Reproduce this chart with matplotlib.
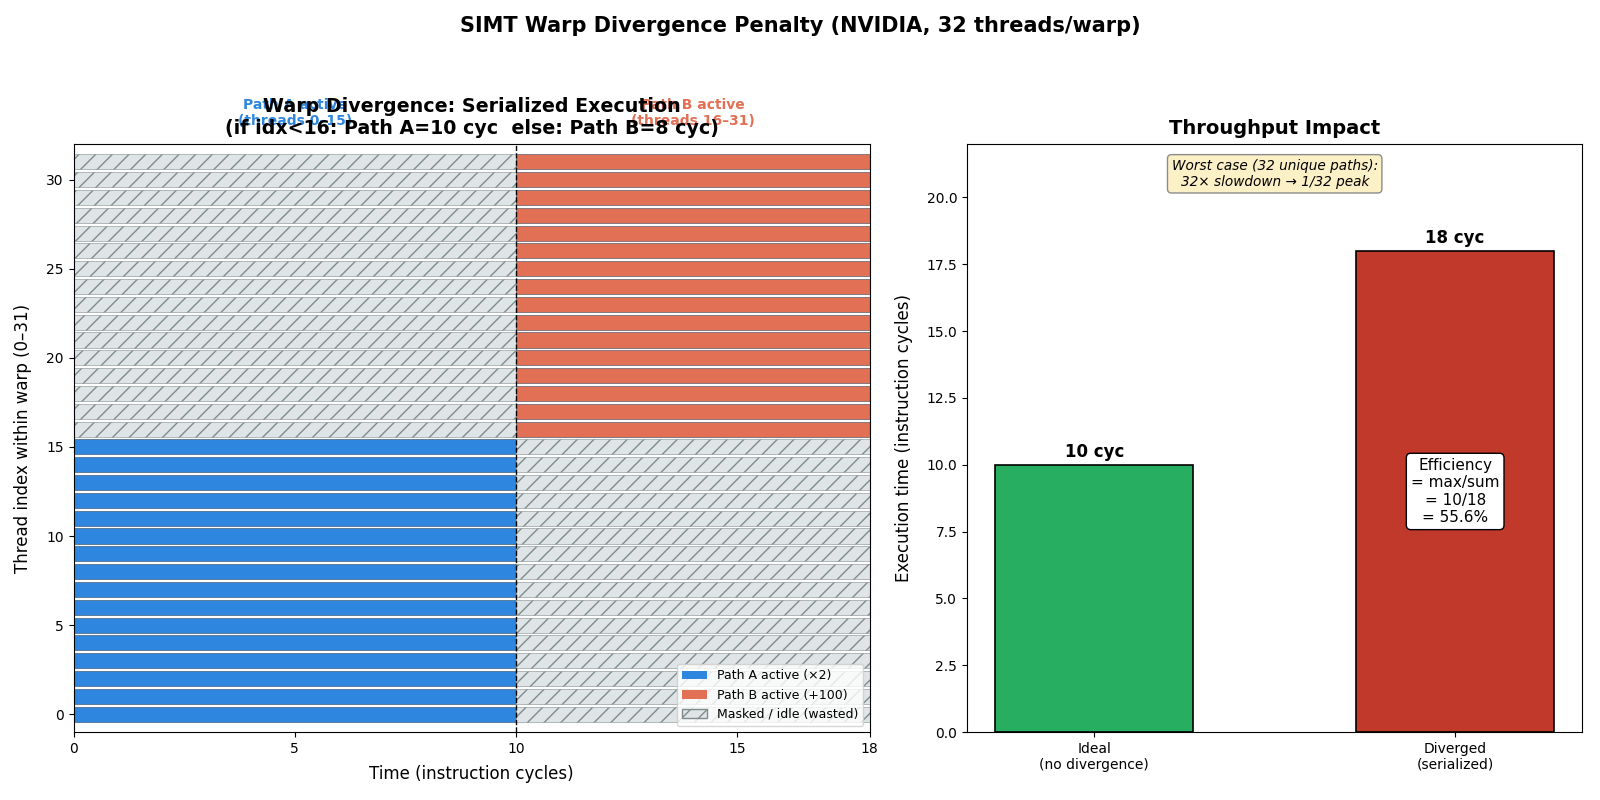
import matplotlib.pyplot as plt
from matplotlib.patches import Patch

# Warp data
threads = list(range(32))
path_a_cycles = 10
path_b_cycles = 8
split_thread = 16

# Throughput panel data
scenarios = ['Ideal\n(no divergence)', 'Diverged\n(serialized)']
exec_cycles = [10, 18]
bar_labels = ['10 cyc', '18 cyc']

blue = '#2E86DE'
coral = '#E17055'
idle = '#DFE4E6'
hatch_col = '#7F8C8D'

fig, (ax1, ax2) = plt.subplots(1, 2, figsize=(16, 8), dpi=100,
                               gridspec_kw=dict(width_ratios=[0.498, 0.385]))
fig.subplots_adjust(left=0.046, right=0.989, bottom=0.085, top=0.82, wspace=0.138)
fig.suptitle('SIMT Warp Divergence Penalty (NVIDIA, 32 threads/warp)',
             fontsize=15, fontweight='bold', y=0.98)

total = path_a_cycles + path_b_cycles
for t in threads:
    if t < split_thread:
        ax1.barh(t, path_a_cycles, left=0, height=0.85, color=blue,
                 edgecolor='#34495E', linewidth=0.4)
        ax1.barh(t, path_b_cycles, left=path_a_cycles, height=0.85, color=idle,
                 edgecolor=hatch_col, linewidth=0.4, hatch='//')
    else:
        ax1.barh(t, path_a_cycles, left=0, height=0.85, color=idle,
                 edgecolor=hatch_col, linewidth=0.4, hatch='//')
        ax1.barh(t, path_b_cycles, left=path_a_cycles, height=0.85, color=coral,
                 edgecolor='#34495E', linewidth=0.4)

ax1.axvline(path_a_cycles, color='black', linestyle='--', linewidth=1)
ax1.set_xlim(0, total)
ax1.set_ylim(-1, 32)
ax1.set_xticks([0, 5, 10, 15, 18])
ax1.set_xlabel('Time (instruction cycles)', fontsize=12, labelpad=7)
ax1.set_ylabel('Thread index within warp (0\u201331)', fontsize=12, labelpad=10)
ax1.set_title('Warp Divergence: Serialized Execution\n'
              '(if idx<16: Path A=10 cyc  else: Path B=8 cyc)',
              fontsize=13.7, fontweight='bold', pad=7)
ax1.text(path_a_cycles / 2, 32.9, 'Path A active\n(threads 0\u201315)', color=blue,
         ha='center', va='bottom', fontsize=10, fontweight='bold')
ax1.text(path_a_cycles + path_b_cycles / 2, 32.9, 'Path B active\n(threads 16\u201331)',
         color=coral, ha='center', va='bottom', fontsize=10, fontweight='bold')

handles = [Patch(facecolor=blue, label='Path A active (\u00d72)'),
           Patch(facecolor=coral, label='Path B active (+100)'),
           Patch(facecolor=idle, edgecolor=hatch_col, hatch='//',
                 label='Masked / idle (wasted)')]
ax1.legend(handles=handles, loc='lower right', fontsize=9)

# Throughput impact
bars = ax2.bar([0, 1], exec_cycles, width=0.55, color=['#27AE60', '#C0392B'],
               edgecolor='black', linewidth=1.2)
for b, lab in zip(bars, bar_labels):
    ax2.text(b.get_x() + b.get_width() / 2, b.get_height() + 0.15, lab,
             ha='center', va='bottom', fontsize=12, fontweight='bold')
ax2.set_xticks([0, 1])
ax2.set_xticklabels(scenarios, fontsize=10)
ax2.set_ylim(0, 22)
ax2.set_ylabel('Execution time (instruction cycles)', fontsize=12, labelpad=10)
ax2.set_title('Throughput Impact', fontsize=14, fontweight='bold', pad=7)
ax2.text(1, 9, 'Efficiency\n= max/sum\n= 10/18\n= 55.6%', ha='center', va='center',
         fontsize=11, bbox=dict(boxstyle='round', facecolor='white', edgecolor='black'))
ax2.text(0.5, 0.975, 'Worst case (32 unique paths):\n32\u00d7 slowdown \u2192 1/32 peak',
         transform=ax2.transAxes, ha='center', va='top', fontsize=9.8, style='italic',
         bbox=dict(boxstyle='round', facecolor='#FCEFC0', edgecolor='gray', alpha=0.9))

plt.savefig('out.png')
